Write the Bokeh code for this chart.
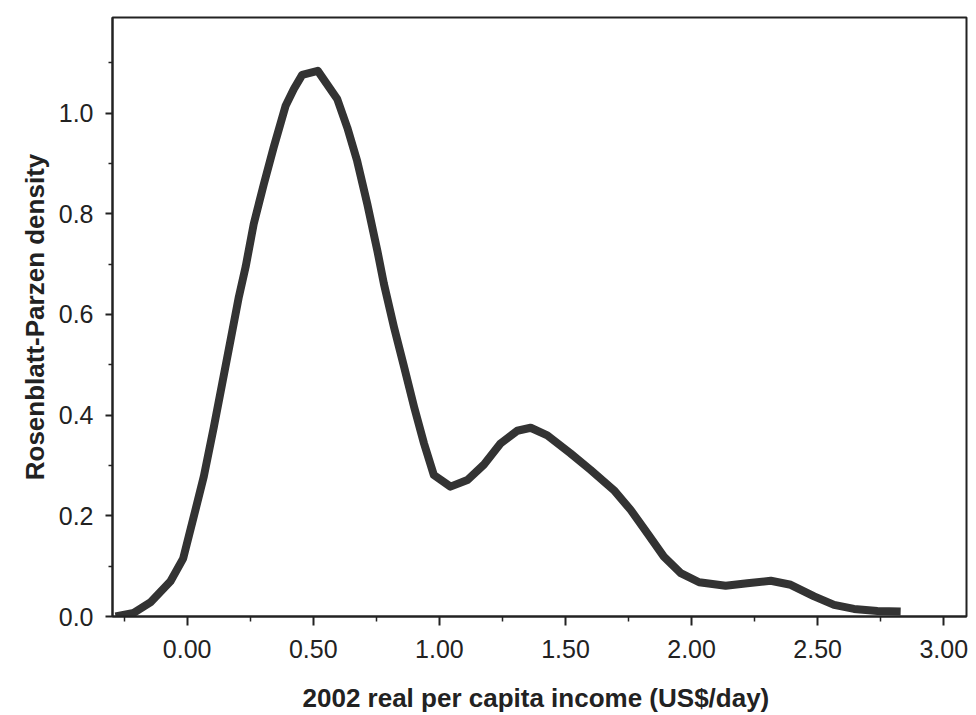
from bokeh.plotting import figure
from bokeh.models import Range1d, PrintfTickFormatter, FixedTicker
from bokeh.embed import file_html
from bokeh.resources import INLINE

# Data
income = [-0.284, -0.212, -0.146, -0.066, -0.016, 0.026, 0.066, 0.106, 0.139,
          0.172, 0.205, 0.232, 0.264, 0.304, 0.343, 0.39, 0.423, 0.456, 0.518,
          0.595, 0.635, 0.674, 0.714, 0.754, 0.78, 0.82, 0.86, 0.90,
          0.939, 0.978, 1.044, 1.111, 1.177, 1.243, 1.309, 1.362, 1.428, 1.52,
          1.60, 1.692, 1.758, 1.825, 1.89, 1.957, 2.03, 2.135, 2.221, 2.314,
          2.393, 2.486, 2.565, 2.644, 2.737, 2.829]
density = [0.0, 0.007, 0.028, 0.07, 0.115, 0.198, 0.278, 0.377, 0.463,
           0.549, 0.635, 0.695, 0.780, 0.859, 0.932, 1.014, 1.048, 1.076, 1.084,
           1.028, 0.971, 0.905, 0.82, 0.727, 0.661, 0.575, 0.496, 0.416,
           0.344, 0.281, 0.258, 0.271, 0.302, 0.344, 0.369, 0.375, 0.36, 0.324,
           0.291, 0.251, 0.212, 0.165, 0.119, 0.086, 0.068, 0.061, 0.066, 0.071,
           0.063, 0.040, 0.023, 0.015, 0.011, 0.010]

x_ticks = [0.0, 0.5, 1.0, 1.5, 2.0, 2.5, 3.0]
x_minor = [-0.25, 0.25, 0.75, 1.25, 1.75, 2.25, 2.75]
y_ticks = [0.0, 0.2, 0.4, 0.6, 0.8, 1.0]
y_minor = [0.1, 0.3, 0.5, 0.7, 0.9, 1.1]

p = figure(width=976, height=715, output_backend="svg", toolbar_location=None,
           x_range=Range1d(-0.296, 3.09), y_range=Range1d(0, 1.19),
           min_border_left=112, min_border_right=10, min_border_top=17,
           min_border_bottom=99)
p.background_fill_color = "white"
p.border_fill_color = "white"
p.xgrid.visible = False
p.ygrid.visible = False
p.outline_line_color = "#222222"
p.outline_line_width = 2

p.line(income, density, line_width=8, line_color="#333333", line_join="round")

ink = "#222222"
font = "Liberation Sans"
p.xaxis.ticker = FixedTicker(ticks=x_ticks, minor_ticks=x_minor)
p.yaxis.ticker = FixedTicker(ticks=y_ticks, minor_ticks=y_minor)
p.xaxis.formatter = PrintfTickFormatter(format="%.2f")
p.yaxis.formatter = PrintfTickFormatter(format="%.1f")

for ax in (p.xaxis, p.yaxis):
    ax.axis_line_color = ink
    ax.axis_line_width = 2
    ax.major_tick_line_color = ink
    ax.minor_tick_line_color = ink
    ax.major_tick_line_width = 2
    ax.minor_tick_line_width = 1.5
    ax.major_tick_in = 0
    ax.minor_tick_in = 0
    ax.major_tick_out = 9
    ax.minor_tick_out = 5
    ax.major_label_text_font = font
    ax.major_label_text_font_size = "25px"
    ax.major_label_text_color = ink
    ax.axis_label_text_font = font
    ax.axis_label_text_font_style = "bold"
    ax.axis_label_text_color = ink
    ax.axis_label_text_font_size = "26px"

p.yaxis.major_tick_out = 7
p.yaxis.minor_tick_out = 4
p.xaxis.major_label_standoff = 14
p.yaxis.major_label_standoff = 12
p.xaxis.axis_label = "2002 real per capita  income (US$/day)"
p.yaxis.axis_label = "Rosenblatt-Parzen density"
p.xaxis.axis_label_standoff = 22
p.yaxis.axis_label_standoff = 6

open("out.html", "w").write(file_html(p, INLINE))
